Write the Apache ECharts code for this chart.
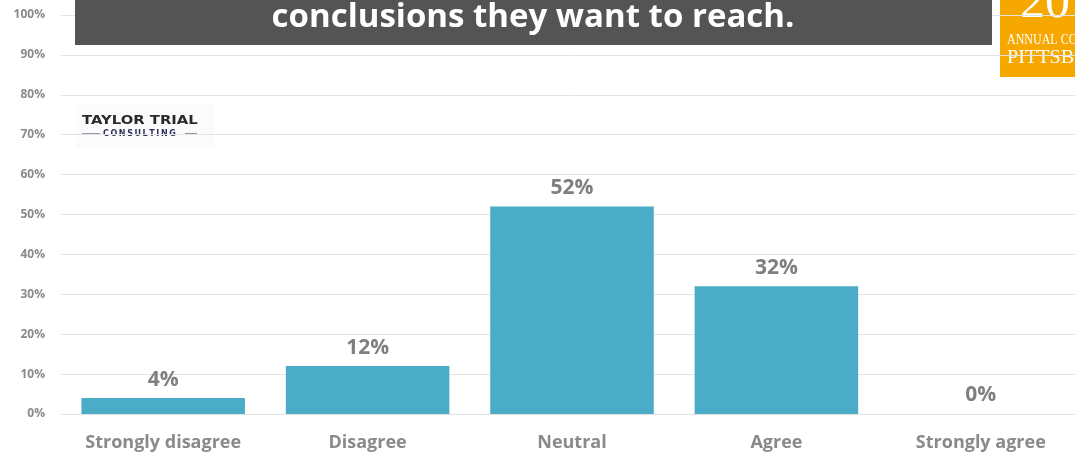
<!DOCTYPE html>
<html>
<head>
<meta charset="utf-8">
<script src="https://cdn.jsdelivr.net/npm/echarts@6/dist/echarts.min.js"></script>
<style>
  html, body { margin: 0; padding: 0; background: #fff; }
  #chart { width: 1075px; height: 453px; }
</style>
</head>
<body>
<div id="chart"></div>
<script>
// Survey response categories and share of respondents (%)
const categories = ['Strongly disagree', 'Disagree', 'Neutral', 'Agree', 'Strongly agree'];
const shares = [4, 12, 52, 32, 0];
const yTicks = [0, 10, 20, 30, 40, 50, 60, 70, 80, 90, 100];

const chart = echarts.init(document.getElementById('chart'));
const labelFont = 'Open Sans, Liberation Sans, sans-serif';

chart.setOption({
  animation: false,
  // plot area runs a little past the right edge of the page
  grid: { left: 61, right: -8, top: 15, bottom: 39, containLabel: false, outerBoundsMode: 'none' },
  xAxis: {
    type: 'category',
    data: categories,
    axisLine: { show: false },
    axisTick: { show: false },
    axisLabel: {
      color: '#8a8a8a', fontWeight: 'bold', fontSize: 18,
      fontFamily: labelFont, margin: 20, interval: 0
    }
  },
  yAxis: {
    type: 'value',
    min: yTicks[0],
    max: yTicks[yTicks.length - 1],
    interval: yTicks[1] - yTicks[0],
    axisLine: { show: false },
    axisTick: { show: false },
    splitLine: { lineStyle: { color: '#e3e3e3', width: 1 } },
    axisLabel: {
      formatter: v => v + '%',
      color: '#8a8a8a', fontWeight: 'bold', fontSize: 12,
      fontFamily: labelFont, margin: 16
    }
  },
  series: [{
    type: 'bar',
    data: shares,
    barCategoryGap: '20%',
    itemStyle: { color: '#4aacc6' },
    label: {
      show: true, position: 'top', distance: 8,
      formatter: p => p.value + '%',
      color: '#7f7f7f', fontWeight: 'bold', fontSize: 21, fontFamily: labelFont
    }
  }],
  graphic: [
    // headline banner
    {
      type: 'rect', x: 75, y: 0, z: 10,
      shape: { width: 917, height: 45 },
      style: { fill: '#545454' }
    },
    {
      type: 'text', x: 533, y: 18, z: 11,
      style: {
        text: 'conclusions they want to reach.',
        fill: '#ffffff', textAlign: 'center', textVerticalAlign: 'middle',
        font: 'bold 33px "Open Sans", "Liberation Sans", sans-serif'
      }
    },
    // conference badge
    {
      type: 'group', x: 1000, y: 0, z: 10,
      children: [
        { type: 'rect', shape: { x: 0, y: 0, width: 76, height: 77 }, style: { fill: '#f7a800' } },
        { type: 'text', x: 20, y: 4, style: { text: '20', fill: '#ffffff', textVerticalAlign: 'middle', font: '50px "Liberation Serif", serif' } },
        { type: 'text', x: 7, y: 40, scaleX: 0.8, style: { text: 'ANNUAL CO', fill: '#ffffff', textVerticalAlign: 'middle', font: '15px "Liberation Serif", serif' } },
        { type: 'text', x: 7, y: 58, scaleX: 1.12, style: { text: 'PITTSB', fill: '#ffffff', textVerticalAlign: 'middle', font: '18px "Liberation Serif", serif' } }
      ]
    },
    // firm logo
    {
      type: 'group', x: 76, y: 104, z: 10,
      children: [
        { type: 'rect', shape: { x: 0, y: 0, width: 138, height: 44 }, style: { fill: '#fbfbfb' } },
        { type: 'text', x: 6, y: 17, scaleX: 1.14, style: { text: 'TAYLOR TRIAL', fill: '#2a2a2a', textVerticalAlign: 'middle', font: 'bold 13px "DejaVu Sans", sans-serif' } },
        { type: 'line', shape: { x1: 6, y1: 30, x2: 24, y2: 30 }, style: { stroke: '#34345e', lineWidth: 1 } },
        { type: 'text', x: 27, y: 30, style: { text: 'C\u2009O\u2009N\u2009S\u2009U\u2009L\u2009T\u2009I\u2009N\u2009G', fill: '#2e2e5c', textVerticalAlign: 'middle', font: 'bold 8px "DejaVu Sans", sans-serif' } },
        { type: 'line', shape: { x1: 109, y1: 30, x2: 121, y2: 30 }, style: { stroke: '#34345e', lineWidth: 1 } }
      ]
    }
  ]
});
</script>
</body>
</html>
